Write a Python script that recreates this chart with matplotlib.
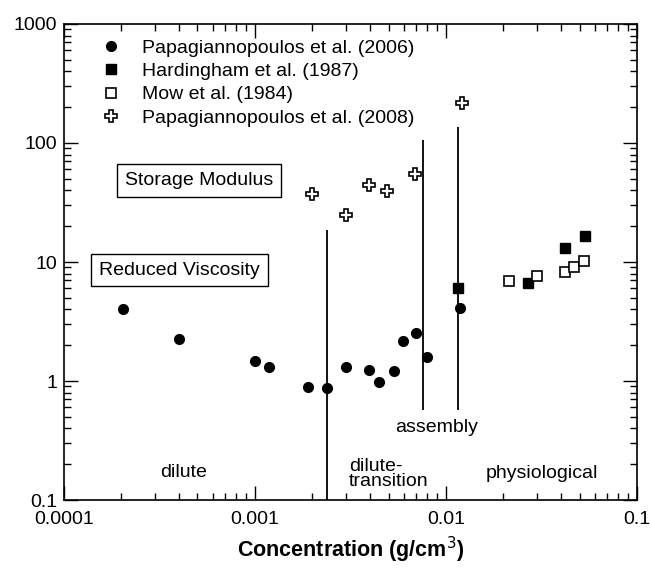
import matplotlib.pyplot as plt
from matplotlib.ticker import LogLocator, FixedFormatter, FixedLocator, NullFormatter

plt.rcParams['font.family'] = ['Liberation Sans', 'DejaVu Sans']

# Papagiannopoulos et al. (2006) - reduced viscosity
pap06_x = [2.04e-4, 3.98e-4, 1.0e-3, 1.19e-3, 1.89e-3, 2.38e-3, 2.99e-3, 3.95e-3,
           4.46e-3, 5.35e-3, 5.97e-3, 6.94e-3, 7.94e-3, 1.19e-2]
pap06_y = [4.03, 2.24, 1.47, 1.31, 0.885, 0.87, 1.31, 1.24,
           0.99, 1.21, 2.15, 2.55, 1.6, 4.1]

# Hardingham et al. (1987)
hard_x = [1.15e-2, 2.70e-2, 4.22e-2, 5.37e-2]
hard_y = [6.0, 6.62, 13.0, 16.5]

# Mow et al. (1984)
mow_x = [2.15e-2, 3.01e-2, 4.18e-2, 4.70e-2, 5.28e-2]
mow_y = [6.92, 7.63, 8.28, 9.0, 10.1]

# Papagiannopoulos et al. (2008) - storage modulus
pap08_x = [1.98e-3, 2.99e-3, 3.96e-3, 4.9e-3, 6.88e-3, 1.21e-2]
pap08_y = [37, 24.8, 44.4, 39.5, 54.8, 218]

# regime boundaries (x, y bottom, y top)
bound_x = [2.39e-3, 7.62e-3, 1.16e-2]
bound_ylo = [0.1, 0.57, 0.57]
bound_yhi = [18.6, 107, 137]

fig = plt.figure(figsize=(6.51, 5.70), dpi=100)
ax = fig.add_axes([0.0983, 0.1228, 0.8802, 0.8351])
ax.set_xscale('log')
ax.set_yscale('log')
ax.set_xlim(1e-4, 0.1)
ax.set_ylim(0.1, 1000)

for bx, lo, hi in zip(bound_x, bound_ylo, bound_yhi):
    ax.vlines(bx, lo, hi, color='black', lw=1.3, zorder=1)

ax.plot(pap06_x, pap06_y, 'o', color='black', ms=7, ls='none',
        label='Papagiannopoulos et al. (2006)', zorder=3)
ax.plot(hard_x, hard_y, 's', color='black', ms=7.5, ls='none',
        label='Hardingham et al. (1987)', zorder=3)
ax.plot(mow_x, mow_y, 's', mfc='white', mec='black', mew=1.2, ms=7.5, ls='none',
        label='Mow et al. (1984)', zorder=3)
ax.plot(pap08_x, pap08_y, 'P', mfc='white', mec='black', mew=1.2, ms=9, ls='none',
        label='Papagiannopoulos et al. (2008)', zorder=3)

ax.legend(loc='upper left', bbox_to_anchor=(0.045, 0.993), frameon=False,
          fontsize=14, handletextpad=1.1, labelspacing=0.3, borderaxespad=0.2,
          handlelength=1.0)

box = dict(boxstyle='square,pad=0.4', fc='white', ec='black', lw=1)
ax.text(0.235, 0.671, 'Storage Modulus', transform=ax.transAxes, fontsize=14,
        ha='center', va='center', bbox=box)
ax.text(0.2016, 0.483, 'Reduced Viscosity', transform=ax.transAxes, fontsize=14,
        ha='center', va='center', bbox=box)

ax.text(4.22e-4, 0.17, 'dilute', fontsize=14, ha='center', va='center')
ax.text(3.1e-3, 0.166, 'dilute-\ntransition', fontsize=14, ha='left', va='center',
        linespacing=0.85)
ax.text(8.9e-3, 0.41, 'assembly', fontsize=14, ha='center', va='center')
ax.text(3.16e-2, 0.168, 'physiological', fontsize=14, ha='center', va='center')

ax.xaxis.set_major_locator(FixedLocator([1e-4, 1e-3, 1e-2, 1e-1]))
ax.xaxis.set_major_formatter(FixedFormatter(['0.0001', '0.001', '0.01', '0.1']))
ax.yaxis.set_major_locator(FixedLocator([0.1, 1, 10, 100, 1000]))
ax.yaxis.set_major_formatter(FixedFormatter(['0.1', '1', '10', '100', '1000']))
ax.xaxis.set_minor_locator(LogLocator(base=10, subs=range(2, 10), numticks=20))
ax.yaxis.set_minor_locator(LogLocator(base=10, subs=range(2, 10), numticks=20))
ax.xaxis.set_minor_formatter(NullFormatter())
ax.yaxis.set_minor_formatter(NullFormatter())
ax.tick_params(which='both', direction='in', top=True, right=True, labelsize=14,
               width=1)
ax.tick_params(which='major', length=10)
ax.tick_params(which='minor', length=5)
ax.tick_params(axis='x', pad=8)
ax.tick_params(axis='y', pad=5)
for s in ax.spines.values():
    s.set_linewidth(1.2)

ax.set_xlabel('Concentration (g/cm$^3$)', fontsize=15.5, fontweight='bold', labelpad=5)

fig.savefig('out.png', dpi=100)
